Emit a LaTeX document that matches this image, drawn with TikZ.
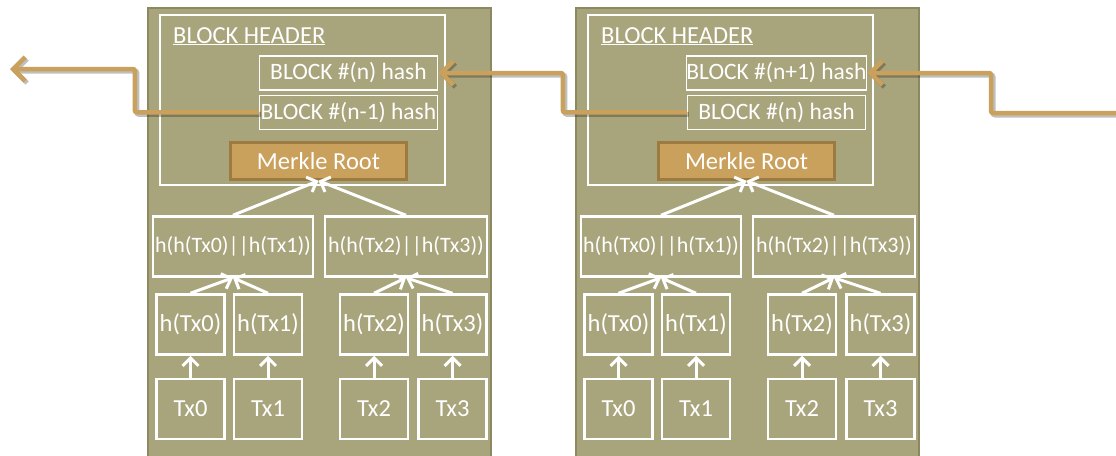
\documentclass[tikz,border=0pt]{standalone}
\usepackage{fontspec}
\setmainfont{Carlito}
\usetikzlibrary{arrows.meta,positioning}

\definecolor{blockfill}{HTML}{A8A47C}
\definecolor{blockedge}{HTML}{8C8862}
\definecolor{rootfill}{HTML}{C9A05C}
\definecolor{rootedge}{HTML}{9C7A40}
\definecolor{linkcol}{HTML}{C9A05C}

\begin{document}
\begin{tikzpicture}[
    x=1pt, y=-1pt,
    node distance=22pt,
    blockbox/.style={rectangle, draw=blockedge, fill=blockfill, line width=2.5pt, minimum width=343pt, minimum height=462pt},
    headbox/.style={rectangle, draw=white, line width=2pt, minimum width=285pt, minimum height=170pt},
    hashbox/.style={rectangle, draw=white, line width=1.3pt, minimum width=178pt, minimum height=34pt, inner sep=0pt, text=white, font=\fontsize{23.5}{28}\selectfont},
    rootbox/.style={rectangle, draw=rootedge, fill=rootfill, line width=2.5pt, minimum width=176pt, minimum height=37pt, inner sep=0pt, text=white, font=\fontsize{24.5}{29}\selectfont},
    pairbox/.style={rectangle, draw=white, line width=2.5pt, minimum height=60pt, inner sep=0pt, text=white, font=\fontsize{22}{26}\selectfont},
    leafbox/.style={rectangle, draw=white, line width=2.5pt, minimum width=68pt, minimum height=60pt, inner sep=0pt, text=white, font=\fontsize{24.5}{29}\selectfont},
    climb/.style={-{Straight Barb[length=8pt, width=16pt, line width=3pt]}, draw=white, line width=3pt},
    link/.style={-{Straight Barb[length=12pt, width=24pt, line width=4.5pt]}, draw=linkcol, line width=4.5pt, rounded corners=2pt,
        preaction={draw=black, opacity=.25, line width=5pt, transform canvas={shift={(2pt,-2pt)}}}},
]
    \useasboundingbox (0,0) rectangle (1116,455);
    \clip (0,0) rectangle (1116,455);

    % two blocks of the chain, the second shifted right
    \foreach \b/\dx/\up/\down in {a/0/n/n-1, b/428/n+1/n} {
    \begin{scope}[shift={(\dx,0)}]
        \node[blockbox] (\b-blk) at (319.5,239) {};
        \node[headbox] (\b-head) at (302.5,100) {};
        \node[anchor=base west, text=white, font=\fontsize{24.5}{29}\selectfont, inner sep=0pt] (\b-title) at (173,43) {\underline{BLOCK HEADER}};
        \node[hashbox] (\b-top) at (348.5,73) {BLOCK \#(\up) hash};
        \node[hashbox, below=4pt of \b-top] (\b-prev) {BLOCK \#(\down) hash};
        \node[rootbox] (\b-root) at (318.5,161) {Merkle Root};

        % merkle tree
        \node[pairbox, minimum width=160pt] (\b-l) at (233,246.5) {h(h(Tx0)||h(Tx1))};
        \node[pairbox, minimum width=162pt] (\b-r) at (406,246.5) {h(h(Tx2)||h(Tx3))};
        \node[leafbox] (\b-h0) at (190.5,324.5) {h(Tx0)};
        \node[leafbox] (\b-h1) at (268,324.5) {h(Tx1)};
        \node[leafbox] (\b-h2) at (374,324.5) {h(Tx2)};
        \node[leafbox] (\b-h3) at (452.5,324.5) {h(Tx3)};
        \foreach \i in {0,...,3}
            \node[leafbox, below=of \b-h\i] (\b-t\i) {Tx\i};

        \foreach \i in {0,...,3}
            \draw[climb] (\b-t\i.north) -- (\b-h\i.south);
        \draw[climb] (\b-h0.north) -- (\b-l.south);
        \draw[climb] (\b-h1.north) -- (\b-l.south);
        \draw[climb] (\b-h2.north) -- (\b-r.south);
        \draw[climb] (\b-h3.north) -- (\b-r.south);
        \draw[climb] (\b-l.north) -- (\b-root.south);
        \draw[climb] (\b-r.north) -- (\b-root.south);
    \end{scope}
    }

    % hash pointers between blocks
    \coordinate (out) at (10,69);
    \coordinate (in) at (1116,113);
    \draw[link] (a-prev.west) -- ++(-124,0) |- (out);
    \draw[link] (b-prev.west) -- ++(-124,0) |- (a-top.east);
    \draw[link] (in) -- (991,113) |- (b-top.east);
\end{tikzpicture}
\end{document}
